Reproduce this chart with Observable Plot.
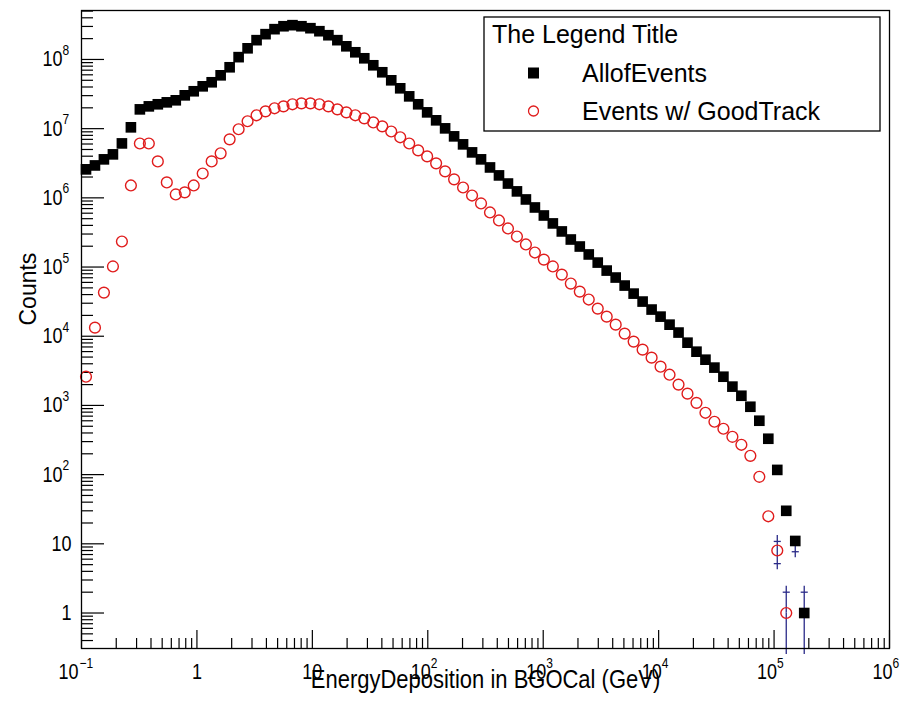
<!DOCTYPE html>
<html>
<head>
<meta charset="utf-8">
<script src="https://cdn.jsdelivr.net/npm/d3@7"></script>
<script src="https://cdn.jsdelivr.net/npm/@observablehq/plot@0.6"></script>
<style>
  html, body { margin: 0; padding: 0; background: white; }
  #chart { width: 903px; height: 704px; }
</style>
</head>
<body>
<div id="chart"></div>
<script>
// ---- Data (bin centres of a log-binned histogram) ----
const energy = [
  0.1094, 0.1308, 0.1564, 0.1872, 0.2239, 0.2679, 0.3204, 0.3831, 0.4583, 0.5482,
  0.6557, 0.7843, 0.9380, 1.122, 1.342, 1.605, 1.920, 2.297, 2.747, 3.286,
  3.930, 4.701, 5.623, 6.726, 8.045, 9.624, 11.51, 13.77, 16.47, 19.70,
  23.56, 28.18, 33.71, 40.33, 48.24, 57.70, 69.02, 82.56, 98.73, 118.1,
  141.3, 169.0, 202.1, 241.8, 289.2, 345.9, 413.8, 495.0, 592.1, 708.0,
  847.1, 1013, 1212, 1449, 1734, 2074, 2480, 2967, 3548, 4245,
  5077, 6073, 7264, 8690, 10390, 12430, 14870, 17780, 21270, 25440,
  30430, 36400, 43550, 52090, 62310, 74530, 89130, 106600, 127500, 152600,
  182500
];
const allEvents = [
  2580000, 2940000, 3600000, 4250000, 6120000, 10450000, 19000000, 21000000, 22500000, 24000000,
  25700000, 30300000, 34700000, 40900000, 46800000, 59000000, 77100000, 108000000, 145000000, 190000000,
  232000000, 274000000, 302000000, 313000000, 302000000, 283000000, 256000000, 224000000, 190000000, 155000000,
  127000000, 104000000, 82400000, 65300000, 50000000, 38300000, 29300000, 22500000, 17200000, 13200000,
  10100000, 7740000, 5930000, 4540000, 3600000, 2750000, 2110000, 1610000, 1240000, 948000,
  726000, 556000, 427000, 327000, 250000, 198000, 152000, 116000, 88900, 70500,
  54000, 41300, 31700, 24300, 19200, 14700, 11300, 8070, 5980, 4580,
  3520, 2600, 1870, 1380, 957, 601, 330, 117, 30, 11,
  1
];
const goodTrack = [
  2600, 13300, 42700, 102000, 234000, 1510000, 6100000, 6100000, 3360000, 1670000,
  1120000, 1200000, 1510000, 2250000, 3360000, 4400000, 7000000, 9800000, 12800000, 15600000,
  17800000, 19700000, 21000000, 22500000, 23200000, 23200000, 22500000, 21000000, 19000000, 17200000,
  15600000, 14100000, 12300000, 10800000, 9100000, 7500000, 6100000, 4850000, 3970000, 3150000,
  2410000, 1850000, 1410000, 1080000, 830000, 615000, 471000, 361000, 276000, 212000,
  162000, 128000, 102000, 77800, 57700, 44200, 33900, 25100, 19200, 14700,
  10900, 8360, 6400, 4900, 3630, 2780, 2000, 1480, 1090, 783,
  581, 460, 352, 270, 187, 93, 25, 8, 1
];
const seriesNames = ["AllofEvents", "Events w/ GoodTrack"];
const legendTitle = "The Legend Title";
const xTitle = "EnergyDeposition in BGOCal (GeV)";
const yTitle = "Counts";

// Axis ticks and labels
const xMajorTicks = [0.1, 1, 10, 100, 1000, 1e4, 1e5, 1e6];
const xLabelBase  = ["10", "1", "10", "10", "10", "10", "10", "10"];
const xLabelExp   = ["\u22121", "", "", "2", "3", "4", "5", "6"];
const yMajorTicks = [1, 10, 100, 1e3, 1e4, 1e5, 1e6, 1e7, 1e8];
const yLabelBase  = ["1", "10", "10", "10", "10", "10", "10", "10", "10"];
const yLabelExp   = ["", "", "2", "3", "4", "5", "6", "7", "8"];

const xDomain = [0.1, 1e6];
const yDomain = [0.307, 5.1e8];

// ---- Build ----
const W = 903, H = 704;
const mL = 81, mR = 14, mT = 10, mB = 56;
const frameW = W - mL - mR, frameH = H - mT - mB;

const red = "#e01c1c";
const navy = "#2a2a88";

const allData = allEvents.map((c, i) => ({e: energy[i], c}));
const goodData = goodTrack.map((c, i) => ({e: energy[i], c}));

// Poisson error bars, only where they stick out of the marker
const errData = [...allData, ...goodData]
  .filter(d => d.c < 20)
  .map(d => {
    const s = Math.sqrt(d.c);
    const lo = d.c - s;
    return {
      e: d.e, c: d.c, hi: d.c + s,
      lo: lo > yDomain[0] ? lo : yDomain[0],
      lowCap: lo > yDomain[0],
      upShow: (d.c + s) / d.c > 1.32
    };
  });
const errUp = errData.filter(d => d.upShow);

const xMajor = xMajorTicks.map((v, i) => ({v, base: xLabelBase[i], exp: xLabelExp[i]}));
const yMajor = yMajorTicks.map((v, i) => ({v, base: yLabelBase[i], exp: yLabelExp[i]}));

const xMinor = d3.scaleLog().domain(xDomain).ticks().filter(t => !xMajorTicks.includes(t));
const yMinor = d3.scaleLog().domain(yDomain).ticks()
  .filter(t => t >= yDomain[0] && t <= yDomain[1])
  .filter(t => Math.abs(Math.log10(t) - Math.round(Math.log10(t))) > 1e-9);

const capSymbol = {
  draw(ctx, size) {
    const w = Math.sqrt(size) / 2;
    ctx.moveTo(-w, 0);
    ctx.lineTo(w, 0);
  }
};

const font = "'Liberation Sans', Arial, Helvetica, sans-serif";
const xPos = xMajor.filter(d => d.exp && d.exp.length === 1);
const xNeg = xMajor.filter(d => d.exp && d.exp.length > 1);
const xPlain = xMajor.filter(d => !d.exp);

const chart = Plot.plot({
  width: W,
  height: H,
  marginLeft: mL,
  marginRight: mR,
  marginTop: mT,
  marginBottom: mB,
  style: {fontFamily: font, background: "white", color: "black", overflow: "visible"},
  x: {type: "log", domain: xDomain, axis: null},
  y: {type: "log", domain: yDomain, axis: null},
  marks: [
    // ticks (inside the frame, ROOT style)
    Plot.tickX(xMinor, {x: d => d, insetTop: frameH - 10, stroke: "black", strokeWidth: 1.2}),
    Plot.tickX(xMajorTicks, {x: d => d, insetTop: frameH - 18, stroke: "black", strokeWidth: 1.2}),
    Plot.tickY(yMinor, {y: d => d, insetRight: frameW - 12, stroke: "black", strokeWidth: 1.2}),
    Plot.tickY(yMajorTicks, {y: d => d, insetRight: frameW - 23, stroke: "black", strokeWidth: 1.2}),

    // x tick labels
    Plot.text(xPos, {x: "v", text: "base", frameAnchor: "bottom", dx: 3, dy: 30, textAnchor: "end", fontSize: 18, fill: "black"}),
    Plot.text(xPos, {x: "v", text: "exp", frameAnchor: "bottom", dx: 3, dy: 19, textAnchor: "start", fontSize: 12, fill: "black"}),
    Plot.text(xNeg, {x: "v", text: "base", frameAnchor: "bottom", dx: -3, dy: 30, textAnchor: "end", fontSize: 18, fill: "black"}),
    Plot.text(xNeg, {x: "v", text: "exp", frameAnchor: "bottom", dx: -2, dy: 19, textAnchor: "start", fontSize: 12, fill: "black"}),
    Plot.text(xPlain, {x: "v", text: "base", frameAnchor: "bottom", dy: 30, textAnchor: "middle", fontSize: 18, fill: "black"}),

    // y tick labels
    Plot.text(yMajor.filter(d => d.exp), {y: "v", text: "base", frameAnchor: "left", dx: -19, textAnchor: "end", fontSize: 18, fill: "black"}),
    Plot.text(yMajor.filter(d => d.exp), {y: "v", text: "exp", frameAnchor: "left", dx: -19, dy: -9, textAnchor: "start", fontSize: 12, fill: "black"}),
    Plot.text(yMajor.filter(d => !d.exp), {y: "v", text: "base", frameAnchor: "left", dx: -10, textAnchor: "end", fontSize: 18, fill: "black"}),

    // axis titles
    Plot.text([xTitle], {text: d => d, frameAnchor: "bottom", dx: 0, dy: 39, fontSize: 22, fill: "black"}),
    Plot.text([yTitle], {text: d => d, frameAnchor: "left", dx: -53, dy: -4, rotate: -90, fontSize: 23, fill: "black"}),

    // error bars (split around the marker)
    Plot.ruleX(errUp, {x: "e", y1: "c", y2: "hi", insetBottom: 6, stroke: navy, strokeWidth: 1.3}),
    Plot.ruleX(errData, {x: "e", y1: "lo", y2: "c", insetTop: 6, stroke: navy, strokeWidth: 1.3}),
    Plot.dot(errUp, {x: "e", y: "hi", symbol: capSymbol, r: 4, stroke: navy, fill: "none", strokeWidth: 1.3}),
    Plot.dot(errData.filter(d => d.lowCap), {x: "e", y: "lo", symbol: capSymbol, r: 4, stroke: navy, fill: "none", strokeWidth: 1.3}),

    // series
    Plot.dot(allData, {x: "e", y: "c", symbol: "square", r: 6, fill: "black", stroke: "none"}),
    Plot.dot(goodData, {x: "e", y: "c", symbol: "circle", r: 5.4, fill: "none", stroke: red, strokeWidth: 1.4}),

    Plot.frame({stroke: "black", strokeWidth: 1.3})
  ]
});

// ROOT-like tall glyphs for axis texts (stretch each text about its own anchor)
d3.select(chart).selectAll("text").each(function() {
  if (this.textContent === yTitle) return;
  const t = this.getAttribute("transform");
  if (t && t.indexOf("translate") >= 0) {
    this.setAttribute("transform", `${t} scale(1,1.2)`);
  }
});

// ---- Legend box (inside the frame, top-right) ----
const svg = d3.select(chart);
const lg = svg.append("g").attr("font-family", font).attr("text-anchor", "start");
lg.append("rect")
  .attr("x", 484).attr("y", 17).attr("width", 396).attr("height", 114)
  .attr("fill", "white").attr("stroke", "black").attr("stroke-width", 1.3);
lg.append("text").text(legendTitle)
  .attr("x", 492).attr("y", 34).attr("dy", "0.35em")
  .attr("font-size", 25).attr("fill", "black").attr("text-anchor", "start");
lg.append("rect")
  .attr("x", 528).attr("y", 67.5).attr("width", 11).attr("height", 11)
  .attr("fill", "black");
lg.append("text").text(seriesNames[0])
  .attr("x", 582).attr("y", 73).attr("dy", "0.35em")
  .attr("font-size", 25).attr("fill", "black").attr("text-anchor", "start");
lg.append("circle")
  .attr("cx", 533.5).attr("cy", 111).attr("r", 5)
  .attr("fill", "none").attr("stroke", red).attr("stroke-width", 1.3);
lg.append("text").text(seriesNames[1])
  .attr("x", 582).attr("y", 111).attr("dy", "0.35em")
  .attr("font-size", 25).attr("fill", "black").attr("text-anchor", "start");

document.getElementById("chart").appendChild(chart);
</script>
</body>
</html>
